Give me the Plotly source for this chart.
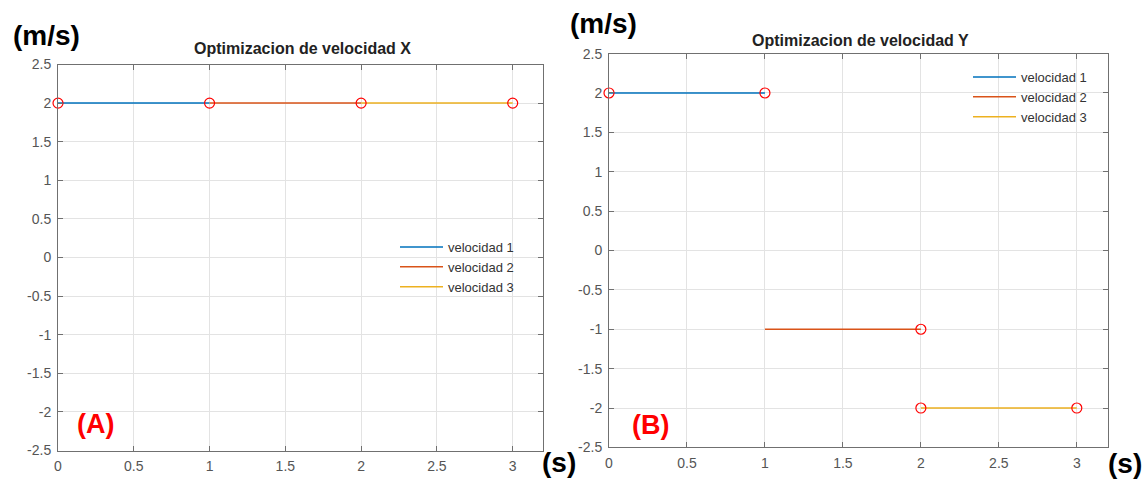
import plotly.graph_objects as go

W, H = 1148, 481

# ---- data ----
seg_names = ["velocidad 1", "velocidad 2", "velocidad 3"]
seg_colors = ["#0072BD", "#D95319", "#EDB120"]
seg_t = [[0, 1], [1, 2], [2, 3]]
vx_segments = [[2, 2], [2, 2], [2, 2]]
vy_segments = [[2, 2], [-1, -1], [-2, -2]]
vx_pts_t = [0, 1, 2, 3]
vx_pts_v = [2, 2, 2, 2]
vy_pts_t = [0, 1, 2, 2, 3]
vy_pts_v = [2, 2, -1, -2, -2]

xtick_vals = [0, 0.5, 1, 1.5, 2, 2.5, 3]
xtick_text = ["0", "0.5", "1", "1.5", "2", "2.5", "3"]
ytick_vals = [-2.5, -2, -1.5, -1, -0.5, 0, 0.5, 1, 1.5, 2, 2.5]
ytick_text = ["-2.5", "-2", "-1.5", "-1", "-0.5", "0", "0.5", "1", "1.5", "2", "2.5"]


def px(x):
    return x / W


def py(y):
    return 1 - y / H


fig = go.Figure()

for i in range(3):
    fig.add_trace(go.Scatter(x=seg_t[i], y=vx_segments[i], mode="lines", name=seg_names[i],
                             line=dict(color=seg_colors[i], width=1.5),
                             xaxis="x", yaxis="y", legend="legend"))
for i in range(3):
    fig.add_trace(go.Scatter(x=seg_t[i], y=vy_segments[i], mode="lines", name=seg_names[i],
                             line=dict(color=seg_colors[i], width=1.5),
                             xaxis="x2", yaxis="y2", legend="legend2"))

mk = dict(symbol="circle-open", color="#ff0000", size=10, line=dict(width=1.2, color="#ff0000"))
fig.add_trace(go.Scatter(x=vx_pts_t, y=vx_pts_v, mode="markers", marker=mk,
                         showlegend=False, xaxis="x", yaxis="y", cliponaxis=False))
fig.add_trace(go.Scatter(x=vy_pts_t, y=vy_pts_v, mode="markers", marker=mk,
                         showlegend=False, xaxis="x2", yaxis="y2", cliponaxis=False))

axis_common = dict(showgrid=True, gridcolor="#e3e3e3", gridwidth=1, zeroline=False,
                   showline=True, linecolor="#707070", linewidth=1, mirror="ticks",
                   ticks="inside", ticklen=5, tickcolor="#707070", automargin=False,
                   ticklabelstandoff=3,
                   tickfont=dict(family="Liberation Sans, Arial", size=14, color="#555555"),
                   fixedrange=True)

leg_font = dict(family="Liberation Sans, Arial", size=13, color="#333333")

fig.update_layout(
    width=W, height=H,
    margin=dict(l=0, r=0, t=0, b=0, autoexpand=False),
    paper_bgcolor="white", plot_bgcolor="white",
    xaxis=dict(domain=[px(58), px(543)], range=[0, 3.2], tickvals=xtick_vals, ticktext=xtick_text,
               anchor="y", **axis_common),
    yaxis=dict(domain=[py(450.5), py(64.5)], range=[-2.5, 2.5], tickvals=ytick_vals, ticktext=ytick_text,
               anchor="x", **axis_common),
    xaxis2=dict(domain=[px(609), px(1108)], range=[0, 3.2], tickvals=xtick_vals, ticktext=xtick_text,
                anchor="y2", **axis_common),
    yaxis2=dict(domain=[py(447.4), py(53.6)], range=[-2.5, 2.5], tickvals=ytick_vals, ticktext=ytick_text,
                anchor="x2", **axis_common),
    legend=dict(x=px(395), y=py(232), xanchor="left", yanchor="top", bgcolor="rgba(0,0,0,0)",
                font=leg_font, tracegroupgap=0, itemwidth=43),
    legend2=dict(x=px(968), y=py(62), xanchor="left", yanchor="top", bgcolor="rgba(0,0,0,0)",
                 font=leg_font, tracegroupgap=0, itemwidth=43),
)

ann_font = "Liberation Sans, Arial"
annotations = [
    dict(text="<b>Optimizacion de velocidad X</b>", x=px(302), y=py(48), font=dict(size=16, color="#222222")),
    dict(text="<b>Optimizacion de velocidad Y</b>", x=px(860), y=py(40), font=dict(size=16, color="#222222")),
    dict(text="<b>(m/s)</b>", x=px(46), y=py(35), font=dict(size=28, color="black")),
    dict(text="<b>(m/s)</b>", x=px(603), y=py(23), font=dict(size=28, color="black")),
    dict(text="<b>(s)</b>", x=px(559), y=py(462), font=dict(size=28, color="black")),
    dict(text="<b>(s)</b>", x=px(1125), y=py(463), font=dict(size=28, color="black")),
    dict(text="<b>(A)</b>", x=px(95), y=py(424), font=dict(size=27, color="#ff0000")),
    dict(text="<b>(B)</b>", x=px(651), y=py(425), font=dict(size=27, color="#ff0000")),
]
for a in annotations:
    a.update(xref="paper", yref="paper", showarrow=False, xanchor="center", yanchor="middle")
    a["font"]["family"] = ann_font
fig.update_layout(annotations=annotations)

fig.write_html("out.html")
